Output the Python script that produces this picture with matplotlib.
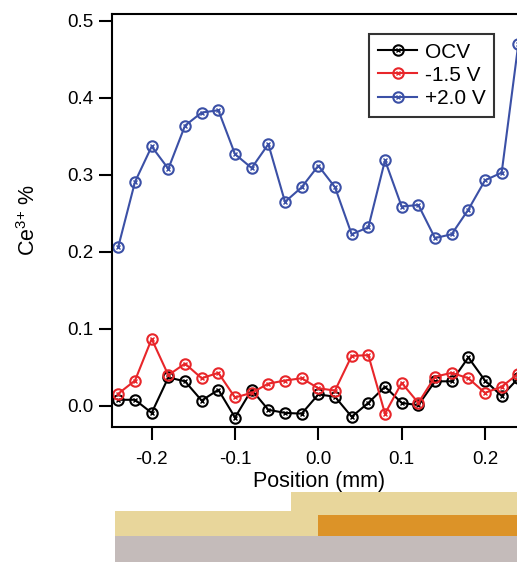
import numpy as np
import matplotlib
matplotlib.use("Agg")
import matplotlib.pyplot as plt

plt.rcParams['font.family'] = ['Liberation Sans', 'DejaVu Sans']
plt.rcParams['mathtext.fontset'] = 'custom'
plt.rcParams['mathtext.rm'] = 'Liberation Sans'

# position along the sample (mm)
position = [-0.24, -0.22, -0.20, -0.18, -0.16, -0.14, -0.12, -0.10, -0.08, -0.06,
            -0.04, -0.02, 0.00, 0.02, 0.04, 0.06, 0.08, 0.10, 0.12, 0.14,
            0.16, 0.18, 0.20, 0.22, 0.24]

ocv = [0.008, 0.008, -0.009, 0.037, 0.032, 0.007, 0.021, -0.015, 0.021, -0.005,
       -0.009, -0.010, 0.015, 0.012, -0.014, 0.004, 0.025, 0.004, 0.001, 0.032,
       0.032, 0.063, 0.033, 0.013, 0.036]
neg15 = [0.016, 0.033, 0.087, 0.040, 0.055, 0.036, 0.043, 0.011, 0.017, 0.029,
         0.033, 0.036, 0.023, 0.020, 0.065, 0.066, -0.010, 0.030, 0.004, 0.038,
         0.043, 0.036, 0.017, 0.025, 0.042]
pos20 = [0.207, 0.291, 0.337, 0.308, 0.364, 0.381, 0.384, 0.327, 0.309, 0.340,
         0.265, 0.284, 0.312, 0.284, 0.223, 0.232, 0.319, 0.259, 0.261, 0.218,
         0.223, 0.255, 0.293, 0.303, 0.470]

labels = ['OCV', '-1.5 V', '+2.0 V']
colors = ['#000000', '#E8262A', '#3B50A6']

# schematic layers under the plot (mm)
stack_left, stack_step, stack_right = -0.244, -0.033, 0.25
electrode_start = 0.0

fig = plt.figure(figsize=(5.17, 5.62), dpi=100)
ax = fig.add_axes([0.216, 0.2397, 0.8027, 0.7354])

handles = []
for y, c in zip([ocv, neg15, pos20], colors):
    ln, = ax.plot(position, y, color=c, lw=1.5, marker='o', ms=7.5,
                  mfc='none', mec=c, mew=1.5)
    cr, = ax.plot(position, y, ls='none', marker='x', ms=2.5, mec=c, mew=1)
    handles.append((ln, cr))

ax.set_xlim(-0.248, 0.25)
ax.set_ylim(-0.0277, 0.509)
ax.set_xticks([-0.2, -0.1, 0.0, 0.1, 0.2])
ax.set_yticks([0.0, 0.1, 0.2, 0.3, 0.4, 0.5])
ax.xaxis.set_major_formatter(matplotlib.ticker.FormatStrFormatter('%.1f'))
ax.yaxis.set_major_formatter(matplotlib.ticker.FormatStrFormatter('%.1f'))
ax.tick_params(direction='out', length=9.5, width=1.5, labelsize=13.5)
ax.tick_params(axis='x', pad=7.5)
ax.tick_params(axis='y', pad=3.5)
for s in ax.spines.values():
    s.set_linewidth(1.5)
ax.spines['right'].set_visible(False)

ax.set_xlabel('Position (mm)', fontsize=15.5, labelpad=2)
ax.set_ylabel(r'Ce$^{3{+}}$ %', fontsize=15.5, labelpad=20)

leg = ax.legend(handles, labels, loc='upper left', bbox_to_anchor=(0.62, 0.952),
                borderaxespad=0, fontsize=15, frameon=True, fancybox=False,
                handlelength=1.9, handletextpad=0.35, borderpad=0.42,
                labelspacing=0.2)
leg.get_frame().set_edgecolor('black')
leg.get_frame().set_linewidth(1.5)

# schematic of the sample below the axis
sax = fig.add_axes([0.216, 0.0, 0.8027, 0.1237])
sax.set_xlim(-0.248, 0.25)
sax.set_ylim(0, 69.5)
sax.axis('off')
sax.fill_between([stack_left, stack_step], 0, 26, color='#C4BBBA', lw=0)
sax.fill_between([stack_step, stack_right], 0, 26, color='#C4BBBA', lw=0)
sax.fill_between([stack_left, stack_step], 26, 51, color='#E8D69B', lw=0)
sax.fill_between([stack_step, stack_right], 26, 69.5, color='#E8D69B', lw=0)
sax.fill_between([electrode_start, stack_right], 26, 46.5, color='#DC9328', lw=0)

fig.savefig('out.png', dpi=100)
